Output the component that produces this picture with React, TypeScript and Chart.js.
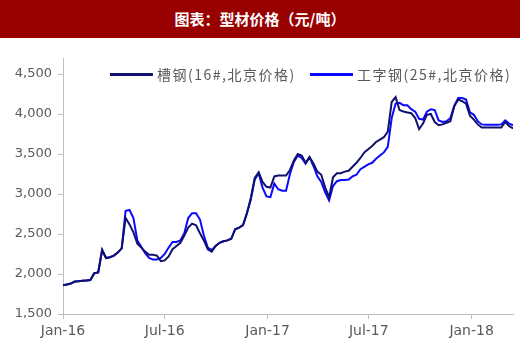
import React, { useEffect, useRef } from "react";
import { Chart, registerables } from "chart.js";

Chart.register(...registerables);

const TITLE = "图表：型材价格（元/吨）";
const SERIES_NAMES = ["槽钢(16#,北京价格)", "工字钢(25#,北京价格)"];
const START_DATE = "2016-01-01";
const WEEK_COUNT = 116;

// 槽钢 weekly price (yuan/ton)
const CHANNEL = [
  1860, 1870, 1880, 1905, 1910, 1915, 1920, 1925, 2010, 2020,
  2300, 2200, 2210, 2230, 2270, 2320, 2700, 2620, 2520, 2380,
  2330, 2280, 2240, 2240, 2230, 2160, 2170, 2220, 2310, 2350,
  2390, 2480, 2580, 2630, 2610, 2510, 2420, 2310, 2280, 2350,
  2390, 2410, 2420, 2440, 2560, 2580, 2610, 2760, 2950, 3200,
  3270, 3150, 3090, 3080, 3220, 3230, 3230, 3230, 3300, 3420,
  3500, 3480, 3390, 3460, 3380, 3280, 3240, 3080, 2960, 3210,
  3260, 3260, 3280, 3290, 3340, 3390, 3450, 3520, 3560, 3600,
  3650, 3680, 3710, 3780, 4150, 4210, 4050, 4030, 4020, 4010,
  3950, 3810, 3880, 3990, 4000, 3900, 3860, 3870, 3890, 3910,
  4100, 4180, 4160, 4130, 3980, 3930, 3870, 3830, 3830, 3830,
  3830, 3830, 3830, 3900, 3850, 3820,
];

// 工字钢 weekly price (yuan/ton)
const IBEAM = [
  1860, 1870, 1880, 1905, 1910, 1915, 1920, 1925, 2010, 2020,
  2300, 2200, 2210, 2230, 2270, 2320, 2790, 2800, 2700, 2420,
  2340, 2260, 2200, 2180, 2180, 2200, 2250, 2330, 2400, 2400,
  2420, 2510, 2700, 2760, 2760, 2680, 2480, 2330, 2300, 2350,
  2390, 2410, 2420, 2440, 2560, 2580, 2610, 2760, 2930, 3180,
  3260, 3080, 2970, 2960, 3130, 3060, 3040, 3040, 3250, 3400,
  3480, 3450, 3380, 3460, 3350, 3220, 3150, 3020, 2920, 3100,
  3160, 3175, 3175, 3180, 3220, 3240, 3310, 3340, 3370, 3390,
  3440, 3480, 3520, 3590, 3950, 4130, 4140, 4110, 4110, 4060,
  4030, 3940, 3930, 4030, 4060, 4050, 3920, 3900, 3910, 3950,
  4100, 4200, 4200, 4180, 4020, 3990, 3910, 3870, 3865, 3865,
  3865, 3865, 3870, 3920, 3880, 3860,
];

const X_TICK_DATES = ["2016-01-01", "2016-07-01", "2017-01-01", "2017-07-01", "2018-01-01"];
const X_TICK_LABELS = ["Jan-16", "Jul-16", "Jan-17", "Jul-17", "Jan-18"];
const X_END_DATE = "2018-03-16";
const Y_TICKS = [1500, 2000, 2500, 3000, 3500, 4000, 4500];
const Y_MIN = 1500;
const Y_MAX = 4700;

const COLORS = ["#10106e", "#0a0aff"];

const toUTC = (s: string) => {
  const [y, m, d] = s.split("-").map(Number);
  return Date.UTC(y, m - 1, d);
};
const dayOf = (s: string) => (toUTC(s) - toUTC(START_DATE)) / 86400000;

const WEEK_DATES: string[] = Array.from({ length: WEEK_COUNT }, (_, i) =>
  new Date(toUTC(START_DATE) + i * 7 * 86400000).toISOString().slice(0, 10)
);

export default function App() {
  const ref = useRef<HTMLCanvasElement | null>(null);

  useEffect(() => {
    document.body.style.margin = "0";
    const canvas = ref.current;
    if (!canvas) return;
    const tickFont = { family: "'DejaVu Sans', sans-serif", size: 13 };
    const chart = new Chart(canvas, {
      type: "line",
      data: {
        datasets: [CHANNEL, IBEAM].map((vals, k) => ({
          label: SERIES_NAMES[k],
          data: WEEK_DATES.map((d, i) => ({ x: dayOf(d), y: vals[i] })),
          borderColor: COLORS[k],
          backgroundColor: COLORS[k],
          borderWidth: 2,
          pointRadius: 0,
          tension: 0,
          fill: false,
        })),
      },
      options: {
        responsive: false,
        maintainAspectRatio: false,
        animation: false,
        layout: { padding: { top: 58, right: 7, left: 0, bottom: 0 } },
        plugins: { legend: { display: false }, tooltip: { enabled: false } },
        scales: {
          x: {
            type: "linear",
            min: 0,
            max: dayOf(X_END_DATE),
            afterBuildTicks: (s: any) => {
              s.ticks = X_TICK_DATES.map((d) => ({ value: dayOf(d) }));
            },
            afterFit: (s: any) => {
              s.height = 33;
            },
            ticks: {
              autoSkip: false,
              maxRotation: 0,
              padding: 4,
              color: "#595959",
              font: { family: "'DejaVu Sans', sans-serif", size: 14 },
              callback: (_v: any, i: number) => X_TICK_LABELS[i],
            },
            grid: { drawOnChartArea: false, tickLength: 5, color: "#bfbfbf" },
            border: { color: "#bfbfbf", width: 1 },
          },
          y: {
            min: Y_MIN,
            max: Y_MAX,
            afterBuildTicks: (s: any) => {
              s.ticks = Y_TICKS.map((v) => ({ value: v }));
            },
            afterFit: (s: any) => {
              s.width = 63;
            },
            ticks: {
              padding: 6,
              color: "#595959",
              font: tickFont,
              callback: (v: any) => Number(v).toLocaleString("en-US"),
            },
            grid: { drawOnChartArea: false, tickLength: 5, color: "#bfbfbf" },
            border: { color: "#bfbfbf", width: 1 },
          },
        },
      },
    } as any);
    return () => chart.destroy();
  }, []);

  const legendText: React.CSSProperties = {
    position: "absolute",
    top: 65,
    fontFamily: "'Noto Sans CJK SC', sans-serif",
    fontSize: 14,
    lineHeight: "18px",
    letterSpacing: 1.5,
    color: "#595959",
    whiteSpace: "nowrap",
  };

  return (
    <div style={{ position: "relative", width: 520, height: 347, background: "#fff", overflow: "hidden" }}>
      <canvas ref={ref} width={520} height={347} style={{ position: "absolute", left: 0, top: 0, display: "block" }} />
      <div
        style={{
          position: "absolute",
          left: 0,
          top: 0,
          width: 520,
          height: 38,
          background: "#990000",
          color: "#fff",
          fontFamily: "'Noto Sans CJK SC', sans-serif",
          fontWeight: 700,
          fontSize: 15,
          lineHeight: "38px",
          textAlign: "center",
        }}
      >
        {TITLE}
      </div>
      <div style={{ position: "absolute", left: 110, top: 73, width: 43, height: 3, background: COLORS[0] }} />
      <div style={{ ...legendText, left: 157 }}>{SERIES_NAMES[0]}</div>
      <div style={{ position: "absolute", left: 310, top: 73, width: 43, height: 3, background: COLORS[1] }} />
      <div style={{ ...legendText, left: 357 }}>{SERIES_NAMES[1]}</div>
    </div>
  );
}
